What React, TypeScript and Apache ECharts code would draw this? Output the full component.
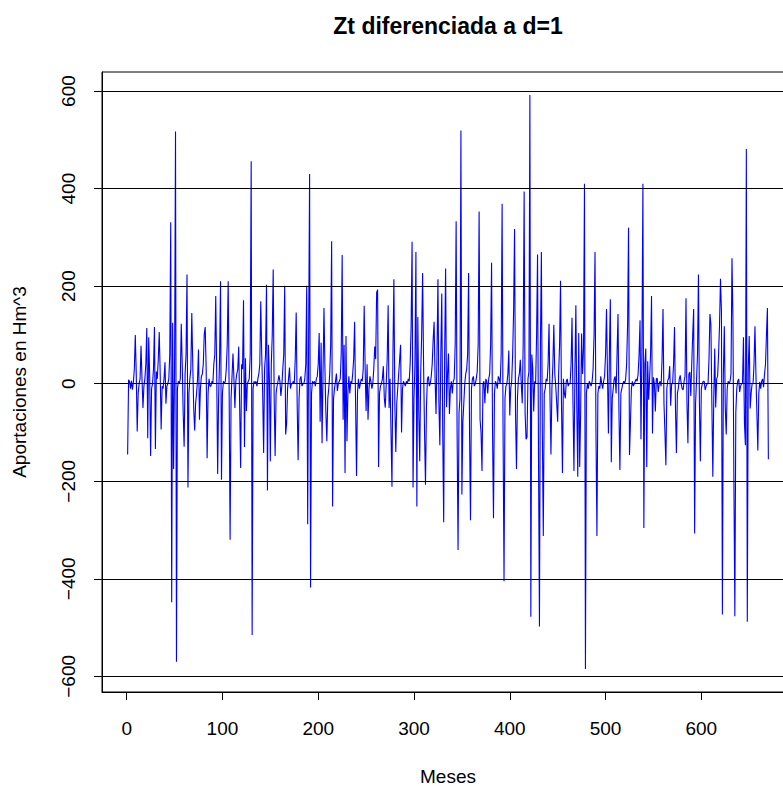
import React, { useEffect, useRef } from "react";
import * as echarts from "echarts";

// Monthly differenced series (Zt, d=1), months 1..670
const seg1 = [-145, 8, 5, -10, 6, -12, 3, 30, 100, 20, -98, -20, 0, 10, 78, 10, -50, -5, 10, 40, 114, -112, 95, 20, -148, -10, 0, 30, 116, -134, 25, 10, 50, 106, 20, -94, -5, -10, 10, 44, -41, -5, 0, 10, 60, 331, -448, 125, -175, 30, 517, -570, -10, 5, 0, 10, 123, 40, -60, -129, 20, 60, 224, -213, -20, 10, 30];
const seg2 = [145, 40, -50, -96, -40, -20, 10, 70, -74, -10, 15, 20, 40, 102, 116, 30, -153, -20, 10, -5, -5, 5, 0, 40, 60, 180, 20, -185, -30, 50, 210, -197, -20, 5, 0, 5, 30, 80, 210, -20, -320, -30, 15, 62, 10, -50, 5, 20, 30, 76, -50, -173, 40, 30, 171, -130, 52, -56, 0, 5, 10, 60, 456, -515, -10, 5, 0];
const seg3 = [5, -5, 10, 20, 40, 169, 60, -20, -142, 30, 60, 203, -219, 80, 10, -159, 40, 100, 234, -30, -148, -20, -5, 5, 17, 5, -25, -5, 30, 60, 201, -104, -82, -10, 10, 33, -10, 0, 0, 5, 0, 50, 146, -40, -157, -30, 10, 15, -5, 0, 0, 10, 40, 201, -288, 100, 430, -418, -20, 5, 0, 5, -5, 10, 15, 40, 104];
const seg4 = [-78, 84, -122, 20, 155, 30, -60, -118, -30, -10, 20, 80, 292, -252, -30, -10, 5, 21, -15, 0, 5, 10, 60, 264, -74, 80, -183, 98, -118, -20, 15, -20, 5, 0, 20, 50, 127, -40, -189, -20, 10, -10, 0, 10, 5, 30, 160, 30, -56, 40, -74, -10, 15, 5, -10, 0, 30, 76, 50, 187, 193, -171, -20, -5, 0, 10, 36];
const seg5 = [-30, -49, 0, 50, 161, -50, 10, -100, -211, 60, 214, -40, -140, -40, -10, 20, 50, 80, -100, -10, 5, 0, -5, 5, 0, 10, 5, 40, 120, 291, -213, -30, 40, 270, -252, 137, -60, -159, 20, 100, 227, 40, -100, -207, -49, 10, 15, -5, 0, 15, 40, 90, 127, 10, -62, 60, 214, -40, -126, 60, 185, -100, -284, 60, 236, -48, 20];
const seg6 = [62, -62, -10, 5, -20, 5, 10, 80, 333, -100, -341, -60, -30, 519, -227, -80, -40, 0, 20, 30, 60, 227, -100, -280, -10, 10, 15, -5, 0, 10, 25, 80, 353, -74, -100, -179, 0, 5, -40, 10, 5, -20, 10, 20, 80, 248, -100, -276, -20, 5, 0, -10, 15, 10, 0, 60, 369, -100, -405, -30, -5, 0, 20, 68, -65, -10, 5];
const seg7 = [60, 150, 317, -60, -175, -30, 10, 20, 49, 0, -40, 80, 394, -60, -114, -110, 10, 25, 592, -478, 60, 30, -57, 5, 0, 100, 265, -150, -498, 80, 270, -100, -312, -20, -10, 10, 5, 40, 123, -30, -145, -10, 40, 121, 20, -5, -40, -78, 20, 80, 211, -40, -183, 10, -20, -30, 5, 10, -5, 0, 0, 40, 135, -40, -179, 20, 161];
const seg8 = [-50, -191, 104, -171, -60, 103, 20, 72, 410, -585, -20, 0, -10, 5, 0, -5, 5, 30, 100, 270, -100, -312, -20, -5, -10, 15, 0, -10, 5, 15, 60, 153, 20, -102, 60, 173, -161, -30, -10, 10, 15, -20, 60, 143, -60, -177, -20, -10, 0, 5, 0, 10, 40, 120, 320, -146, -80, -10, 5, -5, 0, 5, 10, 5, 20, 60, 130];
const seg9 = [-114, 80, 410, -296, 40, 72, -171, 46, -33, 10, 60, 180, -102, 13, 0, -57, 10, 11, -17, 0, 5, -5, 50, 153, -40, -100, -167, -10, 7, 11, 36, -45, 0, 0, 40, 116, -50, -142, -20, -9, 10, 17, 0, -10, -13, 5, 15, 175, -40, -122, 20, 24, -25, 40, 100, 153, -307, -40, 7, 60, 224, -40, -159, -10, 0, 5, 5];
const seg10 = [-13, -5, 0, 0, 50, 143, 121, -40, -191, -30, 72, -49, 10, 15, 60, 120, 215, 149, -473, 20, 118, -50, -104, -10, 5, 0, 5, 20, 257, 133, -200, -477, -60, -10, 5, 10, -17, -5, 0, 0, 95, -80, -126, 481, -488, 30, 98, -51, -20, 0, 0, 40, 118, 20, -60, -137, -20, 4, -10, 5, 10, -7, 20, 40, 100, 155, -155];

const xTicks = [0, 100, 200, 300, 400, 500, 600];
const yTicks = [-600, -400, -200, 0, 200, 400, 600];
const hLines = [-600, -400, -200, 0, 200, 400, 600];

const titleText = "Zt diferenciada a d=1";
const xName = "Meses";
const yName = "Aportaciones en Hm^3";

const FONT = "'Liberation Sans', Arial, Helvetica, sans-serif";

export default function App() {
  const ref = useRef<HTMLDivElement>(null);
  useEffect(() => {
    if (!ref.current) return;
    const chart = echarts.init(ref.current, undefined, { renderer: "svg" });
    const values = [...seg1, ...seg2, ...seg3, ...seg4, ...seg5, ...seg6, ...seg7, ...seg8, ...seg9, ...seg10];
    const data = values.map((v, i) => [i + 1, v]);
    const n = values.length;
    const xPad = (n - 1) * 0.04;
    const ymin = Math.min(...values);
    const ymax = Math.max(...values);
    const yPad = (ymax - ymin) * 0.04;
    const fmt = (v: number) => (v < 0 ? "\u2212" + Math.abs(v) : String(v));
    chart.setOption({
      animation: false,
      backgroundColor: "#ffffff",
      textStyle: { fontFamily: FONT },
      grid: {
        left: 102,
        top: 72,
        width: 692,
        height: 620,
        show: true,
        borderColor: "#000",
        borderWidth: 1,
        backgroundColor: "transparent",
      },
      xAxis: {
        type: "value",
        min: 1 - xPad,
        max: n + xPad,
        axisLine: { show: true, onZero: false, lineStyle: { color: "#000", width: 1 } },
        axisTick: { show: true, length: 8, customValues: xTicks, lineStyle: { color: "#000" } },
        axisLabel: {
          customValues: xTicks,
          color: "#000",
          fontSize: 19,
          fontFamily: FONT,
          margin: 27,
        },
        splitLine: { show: false },
      },
      yAxis: {
        type: "value",
        min: ymin - yPad,
        max: ymax + yPad,
        axisLine: { show: true, onZero: false, lineStyle: { color: "#000", width: 1 } },
        axisTick: { show: true, length: 8, customValues: yTicks, lineStyle: { color: "#000" } },
        axisLabel: {
          customValues: yTicks,
          rotate: 90,
          color: "#000",
          fontSize: 19,
          fontFamily: FONT,
          margin: 24,
          formatter: fmt,
        },
        splitLine: { show: false },
      },
      graphic: [
        {
          type: "text",
          x: 448,
          y: 26,
          style: {
            text: titleText,
            fontSize: 23,
            fontWeight: "bold",
            fontFamily: FONT,
            fill: "#000",
            textAlign: "center",
            textVerticalAlign: "middle",
          },
        },
        {
          type: "text",
          x: 448,
          y: 776,
          style: {
            text: xName,
            fontSize: 19,
            fontFamily: FONT,
            fill: "#000",
            textAlign: "center",
            textVerticalAlign: "middle",
          },
        },
        {
          type: "text",
          x: 19,
          y: 382,
          rotation: Math.PI / 2,
          style: {
            text: yName,
            fontSize: 19,
            fontFamily: FONT,
            fill: "#000",
            textAlign: "center",
            textVerticalAlign: "middle",
          },
        },
      ],
      series: [
        {
          type: "line",
          data,
          showSymbol: false,
          symbol: "none",
          lineStyle: { color: "#0000ff", width: 1.1 },
          z: 2,
          markLine: {
            silent: true,
            symbol: ["none", "none"],
            label: { show: false },
            lineStyle: { color: "#000", width: 1, type: "solid" },
            data: hLines.map((h) => ({ yAxis: h })),
          },
        },
      ],
    });
    return () => chart.dispose();
  }, []);
  return (
    <div
      style={{
        position: "fixed",
        left: 0,
        top: 0,
        width: 783,
        height: 786,
        overflow: "hidden",
        background: "#fff",
      }}
    >
      <div ref={ref} style={{ width: 820, height: 786 }} />
    </div>
  );
}
